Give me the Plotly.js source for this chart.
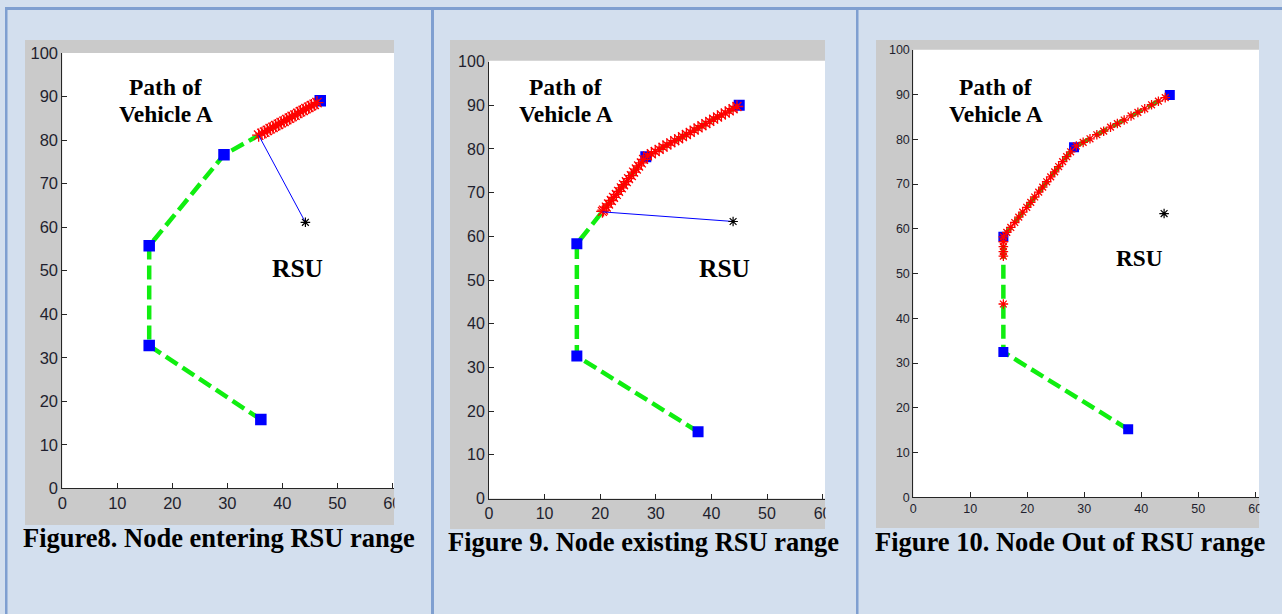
<!DOCTYPE html>
<html>
<head>
<meta charset="utf-8">
<script src="https://cdn.plot.ly/plotly-3.0.1.min.js"></script>
<style>html,body{margin:0;padding:0;background:#d3dfee;}#chart{width:1282px;height:614px;}</style>
</head>
<body>
<div id="chart"></div>
<script>
// ---------- data ----------
// Figure 8
const path8X = [36.1, 15.8, 15.8, 29.4, 46.9];
const path8Y = [15.8, 32.8, 55.7, 76.6, 89.0];
const trail8X = [46.3, 45.8, 45.3, 44.8, 44.3, 43.8, 43.3, 42.8, 42.3, 41.8, 41.3, 40.8, 40.3, 39.8, 39.3, 38.8, 38.3, 37.8, 37.3, 36.8, 36.3, 35.7];
const trail8Y = [88.6, 88.2, 87.9, 87.5, 87.2, 86.8, 86.5, 86.1, 85.7, 85.4, 85.0, 84.7, 84.3, 84.0, 83.6, 83.3, 82.9, 82.6, 82.2, 81.8, 81.5, 81.1];
const link8X = [35.7, 44.2];
const link8Y = [81.1, 61.1];
const rsu8X = [44.2];
const rsu8Y = [61.1];

// Figure 9
const path9X = [37.6, 15.8, 15.8, 28.2, 45.0];
const path9Y = [15.3, 32.6, 58.3, 78.2, 90.0];
const trail9X = [44.6, 43.9, 43.2, 42.5, 41.8, 41.1, 40.4, 39.7, 39.0, 38.3, 37.6, 36.9, 36.2, 35.5, 34.8, 34.1, 33.4, 32.7, 32.0, 31.3, 30.6, 29.9, 29.2, 28.5,
                 27.8, 27.4, 26.9, 26.5, 26.0, 25.6, 25.1, 24.7, 24.2, 23.8, 23.3, 22.9, 22.4, 22.0, 21.5, 21.1, 20.6, 20.4];
const trail9Y = [89.7, 89.2, 88.7, 88.2, 87.8, 87.3, 86.8, 86.3, 85.8, 85.3, 84.8, 84.3, 83.8, 83.3, 82.8, 82.3, 81.9, 81.4, 80.9, 80.4, 79.9, 79.4, 78.9, 78.4,
                 77.6, 76.8, 76.1, 75.4, 74.7, 73.9, 73.2, 72.5, 71.8, 71.1, 70.3, 69.6, 68.9, 68.2, 67.4, 66.7, 66.0, 65.7];
const link9X = [20.4, 43.9];
const link9Y = [65.6, 63.4];
const rsu9X = [43.9];
const rsu9Y = [63.4];

// Figure 10
const path10X = [37.7, 15.8, 15.8, 28.2, 45.0];
const path10Y = [15.2, 32.5, 58.2, 78.2, 89.9];
const trail10X = [44.2, 43.0, 41.8, 40.6, 39.4, 38.2, 37.0, 35.8, 34.6, 33.4, 32.2, 31.0, 29.8, 28.6,
                  27.6, 26.9, 26.2, 25.5, 24.8, 24.1, 23.4, 22.7, 22.0, 21.3, 20.6, 19.9, 19.2, 18.5, 17.8, 17.1, 16.4,
                  15.8, 15.8, 15.8, 15.8, 15.8, 15.8];
const trail10Y = [89.3, 88.5, 87.7, 86.8, 86.0, 85.2, 84.3, 83.5, 82.7, 81.8, 81.0, 80.1, 79.3, 78.5,
                  77.2, 76.1, 75.0, 73.9, 72.7, 71.6, 70.5, 69.3, 68.2, 67.1, 65.9, 64.8, 63.7, 62.6, 61.4, 60.3, 59.2,
                  58.2, 57.1, 56.0, 54.9, 53.9, 43.2];
const rsu10X = [44.0];
const rsu10Y = [63.4];

const tickVals = [0, 10, 20, 30, 40, 50, 60, 70, 80, 90, 100];
const captions = ["Figure8. Node entering RSU range", "Figure 9. Node existing RSU range", "Figure 10. Node Out of RSU range"];
const pathLabel = ["Path of", "Vehicle A"];
const rsuLabel = "RSU";

// ---------- layout helpers ----------
const W = 1282, H = 614;
const px = v => v / W;
const py = v => 1 - v / H;
const GREEN = '#10ee10', BLUE = '#0000ff', RED = '#ff0000';
const BG = '#d3dfee', GRAY = '#cacaca', BORDER = '#7f9fd0';

function panelTraces(suffix, pX, pY, tX, tY, lX, lY, rX, rY, sq, star) {
  const xa = 'x' + suffix, ya = 'y' + suffix;
  const t = [
    {x: pX, y: pY, xaxis: xa, yaxis: ya, mode: 'lines', line: {color: GREEN, width: 4.5, dash: '14px,6px'}, hoverinfo: 'skip'},
    {x: pX, y: pY, xaxis: xa, yaxis: ya, mode: 'markers', marker: {symbol: 'square', size: sq, color: BLUE}, hoverinfo: 'skip'},
    {x: tX, y: tY, xaxis: xa, yaxis: ya, mode: 'markers', marker: {symbol: 'asterisk-open', size: star, color: RED, line: {color: RED, width: 1.3}}, hoverinfo: 'skip'}
  ];
  if (lX) t.push({x: lX, y: lY, xaxis: xa, yaxis: ya, mode: 'lines', line: {color: BLUE, width: 1}, hoverinfo: 'skip'});
  t.push({x: rX, y: rY, xaxis: xa, yaxis: ya, mode: 'markers', marker: {symbol: 'asterisk-open', size: 8, color: '#000', line: {color: '#000', width: 1.2}}, hoverinfo: 'skip'});
  return t;
}

const data = [].concat(
  panelTraces('', path8X, path8Y, trail8X, trail8Y, link8X, link8Y, rsu8X, rsu8Y, 11.5, 11),
  panelTraces('2', path9X, path9Y, trail9X, trail9Y, link9X, link9Y, rsu9X, rsu9Y, 11, 10.5),
  panelTraces('3', path10X, path10Y, trail10X, trail10Y, null, null, rsu10X, rsu10Y, 10, 8)
);

function axis(domain, range, anchor, fs) {
  return {domain: domain, range: range, anchor: anchor, tickvals: tickVals, showgrid: false, zeroline: false,
    showline: true, linecolor: '#262626', linewidth: 1, ticks: 'inside', ticklen: 5, tickcolor: '#262626',
    tickfont: {family: 'Liberation Sans, Arial, sans-serif', size: fs, color: '#1f1f2e'}, fixedrange: true};
}

function rect(x0, y0, x1, y1, color, layer) {
  return {type: 'rect', xref: 'paper', yref: 'paper', x0: px(x0), x1: px(x1), y0: py(y1), y1: py(y0),
    fillcolor: color, line: {width: 0}, layer: layer};
}

function txt(x, y, text, size) {
  return {xref: 'paper', yref: 'paper', x: px(x), y: py(y), xanchor: 'center', yanchor: 'middle', showarrow: false,
    text: '<b>' + text + '</b>', font: {family: 'Liberation Serif, Times New Roman, serif', size: size, color: '#000'}};
}

const layout = {
  width: W, height: H, margin: {l: 0, r: 0, t: 0, b: 0},
  paper_bgcolor: BG, plot_bgcolor: '#ffffff', showlegend: false,
  xaxis: axis([px(62.3), px(394)], [0, 60.31], 'y', 16.5),
  yaxis: axis([py(488.4), py(52.9)], [0, 100], 'x', 16.5),
  xaxis2: axis([px(489), px(825)], [0, 60.43], 'y2', 16),
  yaxis2: axis([py(498.6), py(61.5)], [0, 100], 'x2', 16),
  xaxis3: axis([px(913.3), px(1259)], [0, 60.65], 'y3', 12.5),
  yaxis3: axis([py(497.4), py(49.7)], [0, 100], 'x3', 12.5),
  shapes: [
    rect(25, 40, 394, 525, GRAY, 'below'),
    rect(450, 40, 825, 529, GRAY, 'below'),
    rect(876, 40, 1259, 528, GRAY, 'below'),
    rect(62.3, 52.9, 394, 488.4, '#ffffff', 'below'),
    rect(489, 60.7, 825, 498.6, '#ffffff', 'below'),
    rect(913.3, 49.7, 1259, 497.4, '#ffffff', 'below'),
    rect(394.5, 488, 431, 527, BG, 'above'),
    rect(825.5, 488, 856, 530, BG, 'above'),
    rect(1259.5, 488, 1282, 530, BG, 'above'),
    rect(5, 7, 1282, 10, BORDER, 'above'),
    rect(5, 7, 7.5, 614, BORDER, 'above'),
    rect(431, 7, 434, 614, BORDER, 'above'),
    rect(856, 7, 858.5, 614, BORDER, 'above')
  ],
  annotations: [
    txt(165.7, 87, pathLabel[0], 23.5), txt(165.8, 114, pathLabel[1], 23.5),
    txt(565.5, 87, pathLabel[0], 23.5), txt(565.7, 114, pathLabel[1], 23.5),
    txt(995.8, 87, pathLabel[0], 23.5), txt(995.5, 114, pathLabel[1], 23.5),
    txt(297.2, 268.3, rsuLabel, 25.5), txt(724.2, 268.3, rsuLabel, 25.5), txt(1139, 258, rsuLabel, 23.3),
    txt(218.8, 537.6, captions[0], 26.5), txt(643.3, 541.5, captions[1], 26.5), txt(1070.5, 542.3, captions[2], 26.5)
  ]
};

Plotly.newPlot('chart', data, layout, {displayModeBar: false, staticPlot: true});
</script>
</body>
</html>
